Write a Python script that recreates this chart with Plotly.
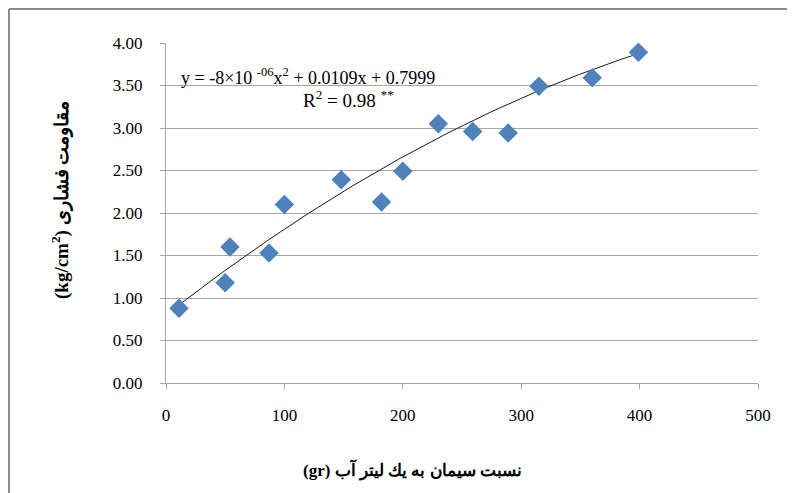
import numpy as np
import plotly.graph_objects as go

# Data
cement_gr = [11, 50, 54, 87, 100, 148, 182, 200, 230, 259, 289, 315, 360, 399]
strength = [0.88, 1.18, 1.60, 1.53, 2.10, 2.39, 2.13, 2.49, 3.05, 2.96, 2.94, 3.49, 3.59, 3.89]
trend_coef = [-8e-06, 0.0109, 0.7999]  # quadratic trendline coefficients
y_ticks = [0, 0.5, 1, 1.5, 2, 2.5, 3, 3.5, 4]
y_ticklabels = ["0.00", "0.50", "1.00", "1.50", "2.00", "2.50", "3.00", "3.50", "4.00"]
x_ticks = [0, 100, 200, 300, 400, 500]

OFF = 8  # page body margin
W, H = 795 - OFF, 493 - OFF
L, R, T, B = 166 - OFF, 795 - 758, 43 - OFF, 493 - 383
pw, ph = W - L - R, H - T - B

font_fam = "Liberation Serif"


def px_x(p):
    return (p - OFF - L) / pw


def px_y(p):
    return 1 - (p - OFF - T) / ph


xt = np.linspace(min(cement_gr), max(cement_gr), 200)
yt = np.polyval(trend_coef, xt)

fig = go.Figure()
fig.add_trace(go.Scatter(x=xt, y=yt, mode="lines",
                         line=dict(color="#1a1a1a", width=1), hoverinfo="skip"))
fig.add_trace(go.Scatter(x=cement_gr, y=strength, mode="markers",
                         marker=dict(symbol="diamond", size=15, color="#4F81BD",
                                     line=dict(width=0))))

grid = "#A6A6A6"
fig.update_layout(
    width=W, height=H,
    margin=dict(l=L, r=R, t=T, b=B, pad=0),
    paper_bgcolor="white", plot_bgcolor="white",
    showlegend=False,
    font=dict(family=font_fam, size=16, color="black"),
    xaxis=dict(range=[0, 500], tickvals=x_ticks, showgrid=False, zeroline=False,
               showline=True, linecolor=grid, linewidth=1,
               ticks="outside", ticklen=5, tickcolor=grid,
               ticklabelstandoff=12, tickfont=dict(size=17, family=font_fam)),
    yaxis=dict(range=[0, 4], tickvals=y_ticks, ticktext=y_ticklabels,
               showgrid=True, gridcolor=grid, gridwidth=1, zeroline=False,
               showline=True, linecolor=grid, linewidth=1,
               ticks="outside", ticklen=5, tickcolor=grid,
               ticklabelstandoff=14, tickfont=dict(size=17, family=font_fam)),
)

# Equation annotations
fig.add_annotation(x=px_x(308), y=px_y(76), xref="paper", yref="paper",
                   xanchor="center", yanchor="middle",
                   text="y = -8×10 <sup>-06</sup>x<sup>2</sup> + 0.0109x + 0.7999",
                   showarrow=False, font=dict(size=18, family=font_fam))
fig.add_annotation(x=px_x(348), y=px_y(99), xref="paper", yref="paper",
                   xanchor="center", yanchor="middle",
                   text="R<sup>2</sup> = 0.98 <sup>**</sup>",
                   showarrow=False, font=dict(size=19, family=font_fam))

# Axis titles
fig.add_annotation(x=px_x(412), y=px_y(470), xref="paper", yref="paper",
                   xanchor="center", yanchor="middle",
                   text="<b>(gr) نسبت سیمان به یك لیتر آب</b>",
                   showarrow=False, font=dict(size=17, family=font_fam))
fig.add_annotation(x=px_x(60), y=px_y(200), xref="paper", yref="paper",
                   xanchor="center", yanchor="middle",
                   text="<b>(kg/cm<sup>2</sup>) مقاومت فشاری</b>", textangle=-90,
                   showarrow=False, font=dict(size=19, family=font_fam))

# Chart outer border (left and top visible)
bx0 = px_x(9)
by0 = px_y(9)
fig.add_shape(type="line", xref="paper", yref="paper", x0=bx0, x1=bx0, y0=by0, y1=px_y(493),
              line=dict(color="#8C8C8C", width=2))
fig.add_shape(type="line", xref="paper", yref="paper", x0=bx0, x1=px_x(795), y0=by0, y1=by0,
              line=dict(color="#8C8C8C", width=2))

fig.write_html("out.html")
